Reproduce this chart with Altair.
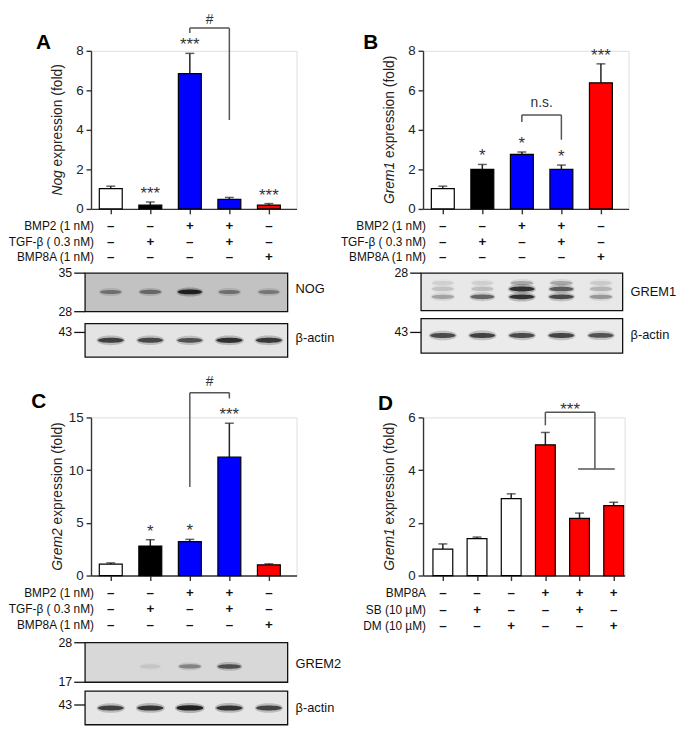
import altair as alt
import pandas as pd

FONT = "Liberation Sans"
WHITE, BLACK, BLUE, RED = "#ffffff", "#000000", "#0000ff", "#ff0000"

# ---------------- data ----------------
# Panel A : Nog expression (fold)
a_values = [1.03, 0.19, 6.85, 0.48, 0.19]
a_errors = [0.12, 0.16, 1.02, 0.10, 0.08]
a_colors = [WHITE, BLACK, BLUE, BLUE, RED]
a_sig = ["", "***", "***", "", "***"]

# Panel B : Grem1 expression (fold)
b_values = [1.03, 2.00, 2.76, 2.00, 6.38]
b_errors = [0.12, 0.25, 0.12, 0.22, 0.96]
b_colors = [WHITE, BLACK, BLUE, BLUE, RED]
b_sig = ["", "*", "*", "*", "***"]

# Panel C : Grem2 expression (fold)
c_values = [1.08, 2.80, 3.22, 11.23, 1.02]
c_errors = [0.12, 0.60, 0.21, 3.22, 0.09]
c_colors = [WHITE, BLACK, BLUE, BLUE, RED]
c_sig = ["", "*", "*", "***", ""]

# Panel D : Grem1 expression (fold)
d_values = [1.00, 1.40, 2.92, 4.96, 2.17, 2.65]
d_errors = [0.20, 0.06, 0.18, 0.47, 0.20, 0.13]
d_colors = [WHITE, WHITE, WHITE, RED, RED, RED]
d_sig = ["", "", "", "", "", ""]

# treatment tables
abc_rows = ["BMP2 (1 nM)", "TGF-\u03b2 ( 0.3 nM)", "BMP8A (1 nM)"]
abc_bmp2 = ["\u2013", "\u2013", "+", "+", "\u2013"]
abc_tgfb = ["\u2013", "+", "\u2013", "+", "\u2013"]
abc_bmp8a = ["\u2013", "\u2013", "\u2013", "\u2013", "+"]
d_rows = ["BMP8A", "SB (10 \u00b5M)", "DM (10 \u00b5M)"]
d_bmp8a = ["\u2013", "\u2013", "\u2013", "+", "+", "+"]
d_sb = ["\u2013", "+", "\u2013", "\u2013", "+", "\u2013"]
d_dm = ["\u2013", "\u2013", "+", "\u2013", "\u2013", "+"]

# significance brackets (bar indices / heights in data units)
a_bracket = dict(left=3, right=4, top=9.15, left_end=8.9, right_end=4.5, label="#", dy=-4)
b_bracket = dict(left=3, right=4, top=4.75, left_end=4.4, right_end=3.5, label="n.s.", dy=-8)
c_bracket = dict(left=3, right=4, top=17.35, left_end=8.4, right_end=16.8, label="#", dy=-7)
d_bracket = dict(left=4, right=5.45, top=6.2, left_end=5.7, right_end=4.04, label="***",
                 dy=3, span=(4.96, 6.03))

# western blot band densities (0-1), one per lane
nog_band = [0.45, 0.5, 1.0, 0.45, 0.4]
a_actin = [0.8, 0.75, 0.7, 0.9, 0.85]
grem1_faint = [0.1, 0.1, 0.28, 0.28, 0.12]
grem1_upper = [0.15, 0.18, 0.9, 0.65, 0.22]
grem1_lower = [0.3, 0.6, 0.9, 0.75, 0.35]
b_actin = [0.75, 0.8, 0.75, 0.78, 0.7]
grem2_band = [0.0, 0.08, 0.4, 0.7, 0.0]
c_actin = [0.8, 0.88, 1.0, 0.88, 0.78]

# ---------------- helpers ----------------
ONE = pd.DataFrame({"k": [0]})
AW = {"N": .722, "o": .556, "g": .556, "G": .778, "r": .333, "e": .556, "m": .833,
      "1": .556, "2": .556, " ": .278}


def tw(s, fs):
    return sum(AW.get(c, .556) for c in s) * fs


REST = "expression (fold)"
REST_W = (4.835 + .278 + 2.278)
BAND = "M-1,0C-1,-0.26 1,-0.26 1,0C1,0.26 -1,0.26 -1,0Z"
GLOW = "M-1,0C-1,-0.45 1,-0.45 1,0C1,0.45 -1,0.45 -1,0Z"


def panel(letter, letter_xy, gene, values, errors, colors, sig, ymax, yticks, xdomain,
          width, height, rows, signs, row_dy, bracket, blot):
    n = len(values)
    pos = list(range(1, n + 1))
    df = pd.DataFrame({"pos": pos, "value": values, "err": errors, "color": colors,
                       "sig": sig})
    xs = alt.Scale(domain=xdomain, nice=False, zero=False)
    ys = alt.Scale(domain=[0, ymax], nice=False, zero=True)
    xax = alt.Axis(values=pos, labels=False, title=None, grid=False, tickSize=5,
                   domainColor="#333", tickColor="#333", domainWidth=1.4, tickWidth=1.4)
    yax = alt.Axis(values=yticks, title=None, grid=False, tickSize=5, labelFontSize=13.5,
                   labelColor="#222", labelPadding=3, domainColor="#333",
                   tickColor="#333", domainWidth=1.4, tickWidth=1.4, labelFont=FONT)

    def X(f):
        return alt.X(f, type="quantitative", scale=xs, axis=xax)

    def Y(f):
        return alt.Y(f, type="quantitative", scale=ys, axis=yax)

    base = alt.Chart(df).transform_calculate(
        top="datum.value + datum.err", x0="datum.pos - 0.29", x1="datum.pos + 0.29",
        zero="0")
    layers = []
    layers.append(base.mark_rule(color="#222", strokeWidth=1.5).encode(
        x=X("pos"), y=Y("value"), y2=alt.Y2("top:Q")))
    layers.append(base.mark_tick(orient="horizontal", size=9, thickness=1.5,
                                 color="#222").encode(x=X("pos"), y=Y("top")))
    layers.append(base.mark_rect(stroke="black", strokeWidth=1.2).encode(
        x=X("x0"), x2=alt.X2("x1:Q"), y=Y("value"), y2=alt.Y2("zero:Q"),
        fill=alt.Fill("color:N", scale=None)))
    layers.append(base.mark_text(fontSize=17, baseline="alphabetic", dy=-3,
                                 color="#333").encode(
        x=X("pos"), y=Y("top"), text="sig:N"))

    # bracket
    bk = bracket
    segs = [(bk["left"], bk["left_end"], bk["left"], bk["top"]),
            (bk["left"], bk["top"], bk["right"], bk["top"]),
            (bk["right"], bk["top"], bk["right"], bk["right_end"])]
    if "span" in bk:
        segs.append((bk["span"][0], bk["right_end"], bk["span"][1], bk["right_end"]))
    sdf = pd.DataFrame(segs, columns=["x", "y", "xe", "ye"])
    layers.append(alt.Chart(sdf).mark_rule(color="#555", strokeWidth=1.5).encode(
        x=X("x"), x2=alt.X2("xe:Q"), y=Y("y"), y2=alt.Y2("ye:Q")))
    ldf = pd.DataFrame({"x": [(bk["left"] + bk["right"]) / 2], "y": [bk["top"]],
                        "t": [bk["label"]]})
    lfs = 17 if bk["label"] == "***" else 14
    layers.append(alt.Chart(ldf).mark_text(fontSize=lfs, baseline="alphabetic",
                                           dy=bk["dy"], color="#333").encode(
        x=X("x"), y=Y("y"), text="t:N"))

    # treatment table
    for lab, sg, ry in zip(rows, signs, row_dy):
        tdf = pd.DataFrame({"pos": pos, "s": sg})
        layers.append(alt.Chart(tdf).mark_text(fontSize=13.5, fontWeight="bold",
                                               baseline="middle", color="#111").encode(
            x=X("pos"), y=alt.value(height + ry), text="s:N"))
        layers.append(alt.Chart(ONE).mark_text(text=lab, fontSize=12, align="right",
                                               baseline="middle", color="#111").encode(
            x=alt.value(3), y=alt.value(height + ry)))

    # y title (italic gene name)
    fs = 14
    W = tw(gene, fs) + tw(" ", fs) + REST_W * fs
    bottom = height / 2 + W / 2
    P = bottom - tw(gene, fs)
    layers.append(alt.Chart(ONE).mark_text(text=gene, fontSize=fs, fontStyle="italic",
                                           angle=270, align="right", baseline="middle",
                                           color="#222").encode(
        x=alt.value(-33), y=alt.value(P)))
    layers.append(alt.Chart(ONE).mark_text(text=REST, fontSize=fs, angle=270,
                                           align="left", baseline="middle",
                                           color="#222").encode(
        x=alt.value(-33), y=alt.value(P - tw(" ", fs))))

    # panel letter
    layers.append(alt.Chart(ONE).mark_text(text=letter, fontSize=21, fontWeight="bold",
                                           align="center", baseline="middle",
                                           color="#000").encode(
        x=alt.value(letter_xy[0]), y=alt.value(letter_xy[1])))

    # blot
    if blot is not None:
        bx0, bx1 = blot["x"]
        for box in blot["boxes"]:
            t, b = box["y"]
            layers.append(alt.Chart(ONE).mark_rect(fill=box["bg"], stroke="#111",
                                                   strokeWidth=1.3).encode(
                x=alt.value(bx0), x2=alt.value(bx1), y=alt.value(height + t),
                y2=alt.value(height + b)))
            for dens, cy, w in box["bands"]:
                bdf = pd.DataFrame({"pos": pos, "d": dens})
                bb = alt.Chart(bdf).transform_calculate(
                    s1=f"pow({w + 2} + 6*datum.d, 2)", o1="datum.d*0.25",
                    s2=f"pow({w} + 5*datum.d, 2)", o2="datum.d*0.9")
                layers.append(bb.mark_point(shape=GLOW, filled=True, color="#111",
                                            strokeWidth=0).encode(
                    x=X("pos"), y=alt.value(height + cy),
                    size=alt.Size("s1:Q", scale=None),
                    opacity=alt.Opacity("o1:Q", scale=None)))
                layers.append(bb.mark_point(shape=BAND, filled=True, color="#111",
                                            strokeWidth=0).encode(
                    x=X("pos"), y=alt.value(height + cy),
                    size=alt.Size("s2:Q", scale=None),
                    opacity=alt.Opacity("o2:Q", scale=None)))
            for mk, my in box["markers"]:
                layers.append(alt.Chart(ONE).mark_rule(color="#111",
                                                       strokeWidth=1.3).encode(
                    x=alt.value(bx0 - 11), x2=alt.value(bx0),
                    y=alt.value(height + my)))
                layers.append(alt.Chart(ONE).mark_text(text=mk, fontSize=12.5,
                                                       align="right",
                                                       baseline="middle",
                                                       color="#111").encode(
                    x=alt.value(bx0 - 13), y=alt.value(height + my)))
            layers.append(alt.Chart(ONE).mark_text(text=box["label"], fontSize=13,
                                                   align="left", baseline="middle",
                                                   color="#111").encode(
                x=alt.value(bx1 + 8), y=alt.value(height + box["label_y"])))

    return alt.layer(*layers).properties(width=width, height=height)


H = 160
pA = panel("A", (-48, -8), "Nog", a_values, a_errors, a_colors, a_sig, 8, [0, 2, 4, 6, 8],
           [0.5, 5.7], 208, H, abc_rows, [abc_bmp2, abc_tgfb, abc_bmp8a], [17, 34, 49],
           a_bracket,
           dict(x=(-6, 199), boxes=[
               dict(y=(65, 104), bg="#c2c2c2", bands=[(nog_band, 84, 19)],
                    markers=[("35", 65), ("28", 104)], label="NOG", label_y=81),
               dict(y=(116, 150), bg="#e4e4e4", bands=[(a_actin, 133, 22)],
                    markers=[("43", 125)], label="\u03b2-actin", label_y=131)]))
pB = panel("B", (-53, -8), "Grem1", b_values, b_errors, b_colors, b_sig, 8, [0, 2, 4, 6, 8],
           [0.5, 5.7], 208, H, abc_rows, [abc_bmp2, abc_tgfb, abc_bmp8a], [17, 34, 49],
           b_bracket,
           dict(x=(-2, 202), boxes=[
               dict(y=(65, 103), bg="#e8e8e8",
                    bands=[(grem1_faint, 75, 21), (grem1_upper, 81, 21),
                           (grem1_lower, 89, 21)],
                    markers=[("28", 65)], label="GREM1", label_y=84),
               dict(y=(111, 146), bg="#ebebeb", bands=[(b_actin, 128, 22)],
                    markers=[("43", 125)], label="\u03b2-actin", label_y=128)]))
pC = panel("C", (-53, -16), "Grem2", c_values, c_errors, c_colors, c_sig, 15,
           [0, 5, 10, 15], [0.5, 5.7], 208, H, abc_rows, [abc_bmp2, abc_tgfb, abc_bmp8a],
           [18, 34, 50], c_bracket,
           dict(x=(-6, 199), boxes=[
               dict(y=(68, 108), bg="#d8d8d8", bands=[(grem2_band, 92, 20)],
                    markers=[("28", 68), ("17", 108)], label="GREM2", label_y=90),
               dict(y=(117, 151), bg="#e6e6e6", bands=[(c_actin, 134, 22)],
                    markers=[("43", 131)], label="\u03b2-actin", label_y=134)]))
pD = panel("D", (-38, -14), "Grem1", d_values, d_errors, d_colors, d_sig, 6, [0, 2, 4, 6],
           [0.42, 6.32], 204, H, d_rows, [d_bmp8a, d_sb, d_dm], [18, 35, 51],
           d_bracket, None)

chart = alt.concat(pA, pB, pC, pD, columns=2,
                   spacing=alt.RowColnumber(row=211, column=128),
                   bounds="flush").properties(
    padding=0, background="white"
).configure_view(strokeWidth=0).configure(font=FONT)

chart.save("out.html", embed_options={"renderer": "svg", "actions": False})
